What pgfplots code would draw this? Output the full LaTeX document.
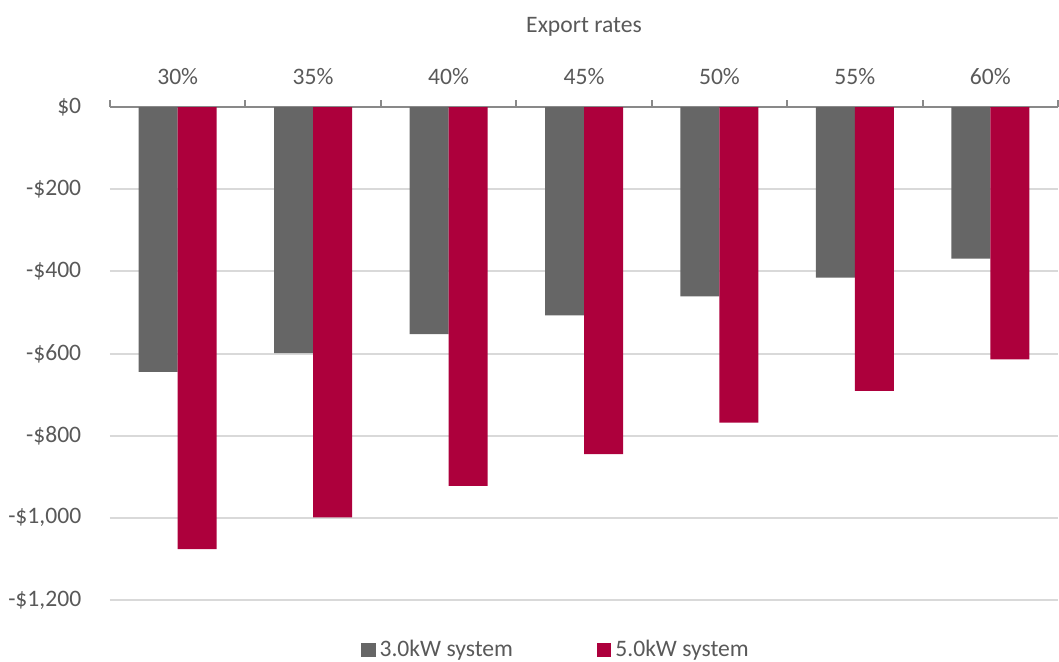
\documentclass[border=0pt]{standalone}
\usepackage{pgfplots}
\pgfplotsset{compat=1.18}
\usepackage{fontspec}
\setmainfont{Carlito}
\definecolor{txt}{HTML}{595959}
\definecolor{gbar}{HTML}{666666}
\definecolor{rbar}{HTML}{AD003C}
\definecolor{gridc}{HTML}{D9D9D9}
\definecolor{axc}{HTML}{898989}
\begin{document}
\fontsize{11.8}{14}\selectfont
\begin{tikzpicture}
\begin{axis}[
  scale only axis,
  width=474pt, height=246.5pt,
  xmin=-0.5, xmax=6.5,
  ymin=-1200, ymax=0,
  axis x line*=top,
  axis y line*=left,
  y axis line style={draw=none},
  x axis line style={draw=axc, line width=1pt},
  xtick={0,1,2,3,4,5,6},
  xticklabels={30\%,35\%,40\%,45\%,50\%,55\%,60\%},
  major x tick style={draw=none},
  minor xtick={-0.5,0.5,1.5,2.5,3.5,4.5,5.5,6.5},
  minor x tick style={draw=axc, line width=1pt},
  minor tick length=3.5pt,
  tick align=outside,
  xticklabel style={text=txt, yshift=3pt},
  ytick={-1200,-1000,-800,-600,-400,-200,0},
  yticklabels={{-\$1,200},{-\$1,000},{-\$800},{-\$600},{-\$400},{-\$200},{\$0}},
  yticklabel style={text=txt, xshift=-6pt},
  major y tick style={draw=none},
  ymajorgrids,
  grid style={draw=gridc, line width=1pt},
  ybar=0pt,
  bar width=0.288,
  title={Export rates},
  title style={at={(axis description cs:0.5,1)}, anchor=center, yshift=34pt, text=txt},
  legend columns=2,
  legend style={at={(axis description cs:0.4715,-0.1014)}, anchor=center, draw=none, fill=none,
    text=txt, /tikz/every even column/.append style={column sep=40pt}},
  legend image code/.code={\fill[#1] (0pt,-3.6pt) rectangle (7.2pt,3.6pt);},
]
\addplot[fill=gbar, draw=none] coordinates {(0,-645) (1,-599) (2,-553) (3,-507) (4,-461) (5,-415) (6,-369)};
\addplot[fill=rbar, draw=none] coordinates {(0,-1076) (1,-999) (2,-922) (3,-845) (4,-768) (5,-691) (6,-614)};
\legend{3.0kW system, 5.0kW system}
\end{axis}
\pgfresetboundingbox
\path (-55pt,-30.5pt) rectangle (474.5pt,300pt);
\end{tikzpicture}
\end{document}
